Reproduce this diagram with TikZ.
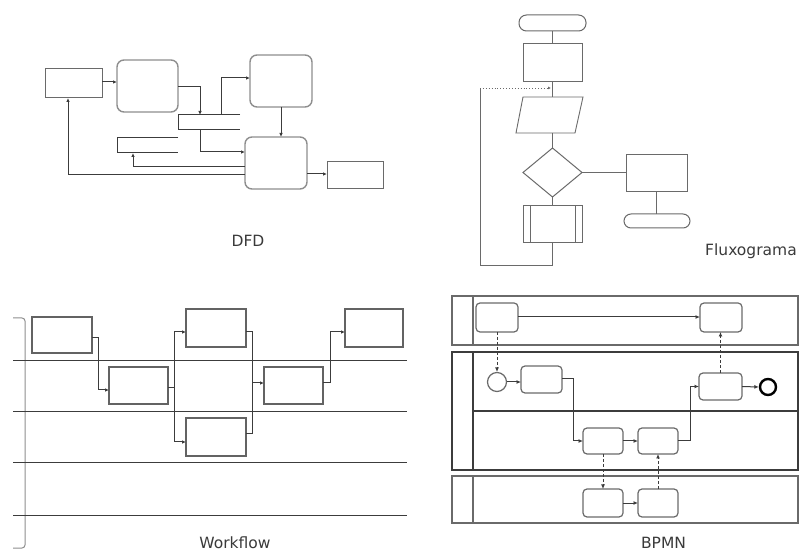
\documentclass[tikz,border=0pt]{standalone}
\usepackage{fontspec}
\setmainfont{DejaVu Sans}
\usetikzlibrary{arrows.meta,shapes.geometric}
\definecolor{ln}{HTML}{3C3C3C}
\definecolor{bx}{HTML}{6A6A6A}
\definecolor{lb}{HTML}{8E8E8E}
\definecolor{tx}{HTML}{3A3A3A}
\tikzset{
 base/.style={draw=bx, line width=1pt, inner sep=0pt, outer sep=0pt, anchor=north west},
 rbox/.style={base, draw=lb, line width=1.4pt, rounded corners=7pt},
 sbox/.style={base},
 wbox/.style={base, draw=ln!80, line width=1.2pt},
 term/.style={base, rounded corners=7.5pt},
 conn/.style={draw=ln, line width=1pt},
 arr/.style={conn, -{Latex[length=4pt,width=3.5pt]}},
 fl/.style={draw=bx, line width=0.9pt},
 hl/.style={draw=ln, line width=1pt},
 brk/.style={draw=lb, line width=1pt, rounded corners=3pt},
 pool/.style={base, draw=bx, line width=1.2pt},
 task/.style={base, draw=bx, line width=1.2pt, rounded corners=4pt},
 barr/.style={draw=ln, line width=1pt, -{Latex[length=4.5pt,width=4pt]}},
 darr/.style={barr, dash pattern=on 3pt off 2pt},
 lbl/.style={text=tx, font=\fontsize{15.5}{17}\selectfont, anchor=base, inner sep=0pt},
}
\begin{document}
\begin{tikzpicture}[x=1pt,y=-1pt]
\useasboundingbox (0,0) rectangle (804,553);
\fill[white] (0,0) rectangle (804,553);

% ---------------- DFD ----------------
\node[sbox, minimum width=57pt, minimum height=29pt] (A) at (45,69) {};
\node[rbox, minimum width=61pt, minimum height=52pt] (B) at (117,60) {};
\node[rbox, minimum width=62pt, minimum height=52pt] (C) at (250,55) {};
\node[rbox, minimum width=62pt, minimum height=52pt] (D) at (245,137) {};
\node[sbox, minimum width=56pt, minimum height=27pt] (E) at (327,162) {};
\coordinate (S1a) at (178,115); \coordinate (S1b) at (178,130);
\coordinate (S1ae) at (240,115); \coordinate (S1be) at (240,130);
\draw[conn] (S1ae) -- (S1a) -- (S1b) -- (S1be);
\coordinate (S2a) at (117,138); \coordinate (S2b) at (117,153);
\coordinate (S2ae) at (178,138); \coordinate (S2be) at (178,153);
\draw[conn] (S2ae) -- (S2a) -- (S2b) -- (S2be);
\coordinate (S1in) at (200,115);
\coordinate (S1out) at (221,115);
\coordinate (S1bot) at (200,130);
\coordinate (S2in) at (133,153);
\coordinate (Ain) at (68,98);
\draw[arr] (A.east |- 0,82) -- (B.west |- 0,82);
\draw[arr] (B.east |- 0,87) -| (S1in);
\draw[arr] (S1out) |- (C.west |- 0,78);
\draw[arr] (C.south) -- (C.south |- D.north);
\draw[arr] (S1bot) |- (D.west |- 0,152);
\draw[arr] (D.west |- 0,167) -| (S2in);
\draw[arr] (D.west |- 0,175) -| (Ain);
\draw[arr] (D.east |- 0,174) -- (E.west |- 0,174);
\node[lbl] (lDFD) at (248,247) {DFD};

% ---------------- Fluxograma ----------------
\node[term, minimum width=67pt, minimum height=16pt] (F1) at (519,15) {};
\node[sbox, minimum width=59pt, minimum height=38pt] (R1) at (523,44) {};
\coordinate (Ptop) at (552.5,97); \coordinate (Pbot) at (552.5,133);
\draw[fl] (523,97) -- (583,97) -- (575,133) -- (516,133) -- cycle;
\node[base, diamond, anchor=center, minimum width=59pt, minimum height=49pt] (Dm) at (552.5,172.5) {};
\node[sbox, minimum width=61pt, minimum height=37pt] (R2) at (626,155) {};
\node[term, rounded corners=7pt, minimum width=66pt, minimum height=14pt] (F2) at (624,214) {};
\node[sbox, minimum width=59pt, minimum height=37pt] (PP) at (523,206) {};
\draw[fl] ([xshift=7pt]PP.north west) -- ([xshift=7pt]PP.south west);
\draw[fl] ([xshift=-7pt]PP.north east) -- ([xshift=-7pt]PP.south east);
\draw[fl] (F1.south) -- (R1.north);
\draw[fl] (R1.south) -- (Ptop);
\draw[fl] (Pbot) -- (Dm.north);
\draw[fl] (Dm.south) -- (PP.north);
\draw[fl] (Dm.east) -- (R2.west |- Dm.east);
\draw[fl] (R2.south) -- (R2.south |- F2.north);
\coordinate (L1) at (552.5,265);
\coordinate (L2) at (480,265);
\coordinate (L3) at (480,88);
\coordinate (L4) at (551,88);
\draw[fl] (PP.south) -- (L1) -- (L2) -- (L3);
\draw[fl, dotted, -{Latex[length=3pt,width=3pt]}] (L3) -- (L4);
\node[lbl] (lFlux) at (751,256) {Fluxograma};

% ---------------- Workflow ----------------
\coordinate (Bt) at (13,318); \coordinate (Bb) at (13,548);
\draw[brk] (Bt) -| (25,548) -- (Bb);
\foreach \yy/\nm in {361/h1,412/h2,463/h3,515/h4}{
  \coordinate (\nm a) at (13,\yy); \coordinate (\nm b) at (407,\yy);
  \draw[hl] (\nm a) -- (\nm b);
}
\node[wbox, minimum width=60pt, minimum height=36pt] (W1) at (32,317) {};
\node[wbox, minimum width=59pt, minimum height=37pt] (W2) at (109,367) {};
\node[wbox, minimum width=60pt, minimum height=38pt] (W3) at (186,309) {};
\node[wbox, minimum width=60pt, minimum height=38pt] (W4) at (186,418) {};
\node[wbox, minimum width=59pt, minimum height=37pt] (W5) at (264,367) {};
\node[wbox, minimum width=58pt, minimum height=38pt] (W6) at (345,309) {};
\draw[arr] (W1.east |- 0,338) -- (98,338) |- (W2.west |- 0,390);
\draw[arr] (W2.east |- 0,388) -- (174,388) |- (W3.west |- 0,332);
\draw[arr] (174,388) |- (W4.west |- 0,442);
\draw[arr] (W3.east |- 0,332) -- (252,332) |- (W5.west |- 0,383);
\draw[conn] (W4.east |- 0,434) -- (252,434) -- (252,383);
\draw[arr] (W5.east |- 0,383) -- (330,383) |- (W6.west |- 0,332);
\node[lbl] (lWork) at (235,548) {Workflow};

% ---------------- BPMN ----------------
\node[pool, minimum width=346pt, minimum height=49pt] (P1) at (452,296) {};
\node[pool, draw=ln, line width=1.3pt, minimum width=346pt, minimum height=118pt] (P2) at (452,352) {};
\node[pool, minimum width=346pt, minimum height=47pt] (P3) at (452,476) {};
\draw[pool] ([xshift=21pt]P1.north west) -- ([xshift=21pt]P1.south west);
\draw[pool, draw=ln] ([xshift=21pt]P2.north west) -- ([xshift=21pt]P2.south west);
\draw[pool] ([xshift=21pt]P3.north west) -- ([xshift=21pt]P3.south west);
\draw[pool, draw=ln] (473,411) -- (P2.east |- 0,411);
\node[task, minimum width=42pt, minimum height=29pt] (T1) at (476,303) {};
\node[task, minimum width=42pt, minimum height=29pt] (T2) at (700,303) {};
\node[task, minimum width=41pt, minimum height=27pt] (T3) at (521,366) {};
\node[task, minimum width=43pt, minimum height=27pt] (T4) at (699,373) {};
\node[task, minimum width=40pt, minimum height=26pt] (T5) at (583,428) {};
\node[task, minimum width=40pt, minimum height=26pt] (T6) at (638,428) {};
\node[task, minimum width=40pt, minimum height=28pt] (T7) at (583,489) {};
\node[task, minimum width=40pt, minimum height=28pt] (T8) at (638,489) {};
\node[circle, draw=bx, line width=1.2pt, minimum size=19pt, inner sep=0pt] (St) at (497,382) {};
\node[circle, draw=black, line width=2.4pt, minimum size=16pt, inner sep=0pt] (En) at (768,387) {};
\draw[barr] (T1.east |- 0,317) -- (T2.west |- 0,317);
\draw[darr] (T1.south) -- (St.north);
\draw[barr] (St.east) -- (T3.west |- St.east);
\draw[barr] (T3.east |- 0,379) -- (573,379) |- (T5.west);
\draw[barr] (T5.east) -- (T6.west);
\draw[barr] (T6.east) -- (690,441) |- (T4.west);
\draw[barr] (T4.east) -- (En.west);
\draw[darr] (T4.north) -- (T4.north |- T2.south);
\draw[darr] (T5.south) -- (T7.north);
\draw[barr] (T7.east) -- (T8.west);
\draw[darr] (T8.north) -- (T6.south);
\node[lbl] (lBPMN) at (663.5,548) {BPMN};
\end{tikzpicture}
\end{document}
